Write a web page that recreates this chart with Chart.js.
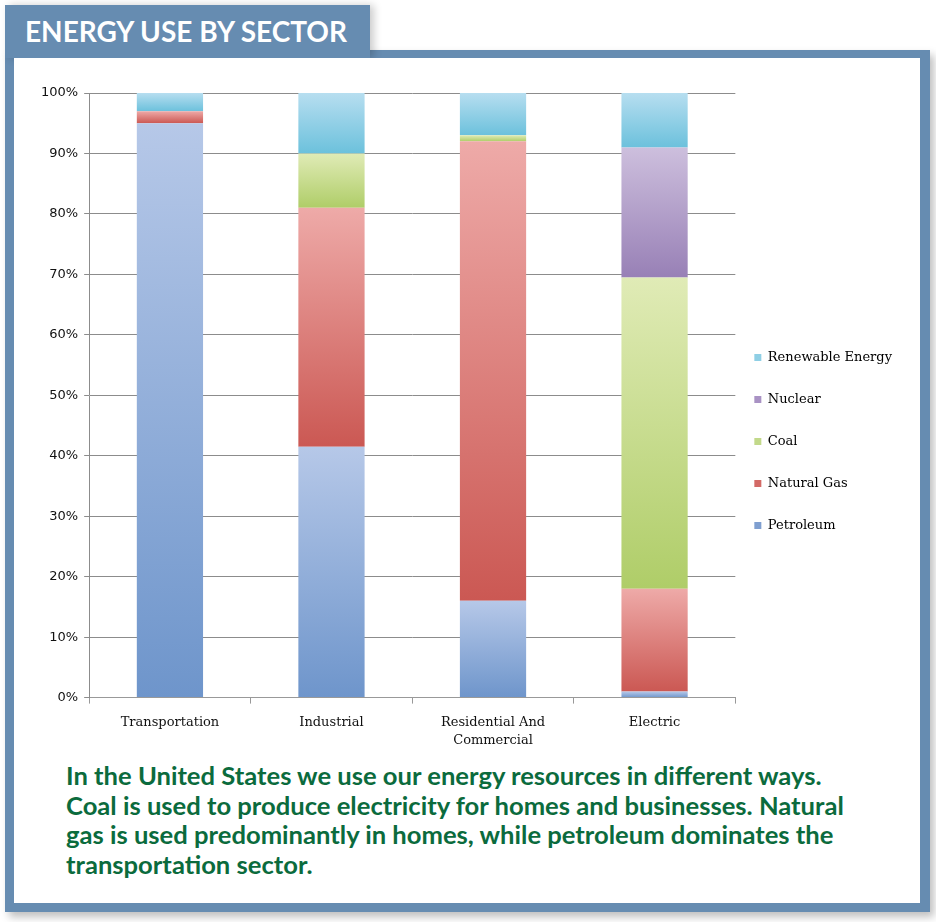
<!DOCTYPE html>
<html>
<head>
<meta charset="utf-8">
<script src="https://cdn.jsdelivr.net/npm/chart.js@4/dist/chart.umd.min.js"></script>
<style>
  body { margin: 0; width: 936px; height: 922px; background: #fff; position: relative; overflow: hidden; }
  .blue { position: absolute; background: #668cb1; }
  #frame { left: 5px; top: 50px; width: 925px; height: 862px; box-shadow: 4px 5px 8px rgba(0,0,0,0.25); }
  #tab { left: 5px; top: 5px; width: 365px; height: 53px; box-shadow: 4px 0 8px rgba(0,0,0,0.2); }
  #inner { position: absolute; left: 14px; top: 58px; width: 906px; height: 845px; background: #fff; }
  #title { position: absolute; left: 25px; top: 14px; color: #fff; font: 700 28px Lato, sans-serif; white-space: nowrap; }
  #wrap { position: absolute; left: 20px; top: 70px; width: 892px; height: 690px; }
  #note { position: absolute; left: 66px; top: 761px; color: #0b6b3d; font: 700 25.6px Lato, sans-serif; line-height: 29.5px; white-space: nowrap; }
</style>
</head>
<body>
<div id="frame" class="blue"></div>
<div id="tab" class="blue"></div>
<div id="inner"></div>
<div id="title">ENERGY USE BY SECTOR</div>
<div id="wrap"><canvas id="energyChart"></canvas></div>
<div id="note">In the United States we use our energy resources in different ways.<br>Coal is used to produce electricity for homes and businesses. Natural<br>gas is used predominantly in homes, while petroleum dominates the<br>transportation sector.</div>

<script>
const sectors = ['Transportation', 'Industrial', ['Residential And', 'Commercial'], 'Electric'];
const yTicks = [0, 10, 20, 30, 40, 50, 60, 70, 80, 90, 100];

const petroleum  = [95, 41.5, 16, 1];
const naturalGas = [2, 39.5, 76, 17];
const coal       = [0, 9, 1, 51.5];
const nuclear    = [0, 0, 0, 21.5];
const renewable  = [3, 10, 7, 9];

const colors = {
    petroleum:  ['#b6c8e8', '#6e95cb', '#7f9fd0'],
    naturalGas: ['#eeaaa8', '#cb5853', '#d36a66'],
    coal:       ['#e0ebb6', '#afcd68', '#c2d98a'],
    nuclear:    ['#cdbfdd', '#9880b6', '#a992c4'],
    renewable:  ['#b7def0', '#6cc1dc', '#8fcfe5']
};

// each segment gets its own light-to-dark gradient
function segmentFill(light, dark) {
    return function (ctx) {
        const chart = ctx.chart;
        if (!chart.chartArea || ctx.dataIndex === undefined) return dark;
        const i = ctx.dataIndex;
        let base = 0;
        for (let k = 0; k < ctx.datasetIndex; k++) {
            base += chart.data.datasets[k].data[i];
        }
        const val = chart.data.datasets[ctx.datasetIndex].data[i];
        const y = chart.scales.y;
        const top = y.getPixelForValue(base + val);
        const bottom = y.getPixelForValue(base);
        if (!isFinite(top) || !isFinite(bottom) || top === bottom) return dark;
        const g = chart.ctx.createLinearGradient(0, top, 0, bottom);
        g.addColorStop(0, light);
        g.addColorStop(1, dark);
        return g;
    };
}

function makeSet(label, data, c) {
    return {
        label: label,
        data: data,
        backgroundColor: segmentFill(c[0], c[1]),
        legendColor: c[2],
        borderWidth: 0,
        categoryPercentage: 1,
        barPercentage: 0.41
    };
}

// pull the legend a little closer to the plot and lower it a bit
const legendShift = {
    id: 'legendShift',
    afterLayout: function (chart) {
        chart.legend.left -= 10;
        chart.legend.right -= 10;
        chart.legend.top += 15;
        chart.legend.bottom += 15;
    }
};

const serif = "'DejaVu Serif', serif";

let energyCtx = document.getElementById('energyChart').getContext('2d');
let energyChart = new Chart(energyCtx, {
    type: 'bar',
    data: {
        labels: sectors,
        datasets: [
            makeSet('Petroleum', petroleum, colors.petroleum),
            makeSet('Natural Gas', naturalGas, colors.naturalGas),
            makeSet('Coal', coal, colors.coal),
            makeSet('Nuclear', nuclear, colors.nuclear),
            makeSet('Renewable Energy', renewable, colors.renewable)
        ]
    },
    plugins: [legendShift],
    options: {
        responsive: true,
        maintainAspectRatio: false,
        animation: false,
        layout: { padding: { top: 23, right: 0, bottom: 0, left: 15 } },
        plugins: {
            tooltip: { enabled: false },
            legend: {
                position: 'right',
                reverse: true,
                labels: {
                    boxWidth: 7,
                    boxHeight: 7,
                    padding: 29,
                    color: '#111',
                    font: { family: serif, size: 13 },
                    generateLabels: function (chart) {
                        return chart.data.datasets.map(function (ds, i) {
                            return {
                                text: ds.label,
                                fillStyle: ds.legendColor,
                                strokeStyle: ds.legendColor,
                                lineWidth: 0,
                                datasetIndex: i
                            };
                        });
                    }
                }
            }
        },
        scales: {
            x: {
                stacked: true,
                grid: { offset: true, drawOnChartArea: false, tickLength: 6, color: '#999' },
                border: { color: '#999' },
                ticks: { color: '#111', font: { family: serif, size: 13, lineHeight: 1.4 }, padding: 10 }
            },
            y: {
                stacked: true,
                min: 0,
                max: 100,
                afterBuildTicks: function (axis) {
                    axis.ticks = yTicks.map(function (v) { return { value: v }; });
                },
                grid: { color: '#8c8c8c', tickLength: 5 },
                border: { color: '#8c8c8c' },
                ticks: {
                    color: '#111',
                    padding: 6,
                    font: { family: "'DejaVu Sans', sans-serif", size: 13 },
                    callback: function (v) { return v + '%'; }
                }
            }
        }
    }
});
</script>
</body>
</html>
